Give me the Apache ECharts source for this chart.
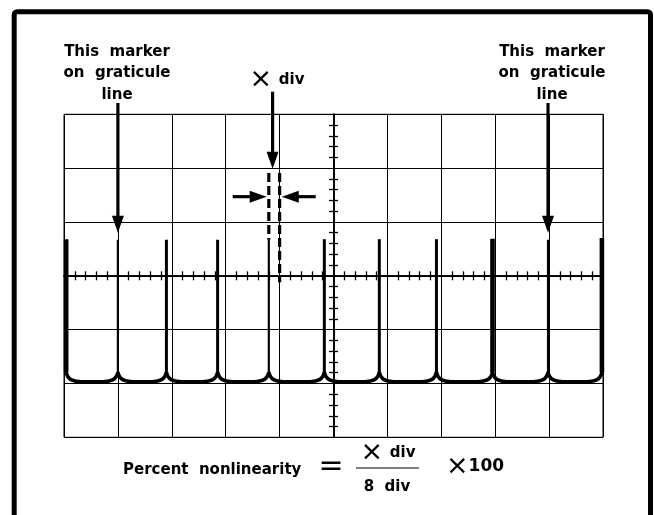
<!DOCTYPE html>
<html><head><meta charset="utf-8">
<script src="https://cdn.jsdelivr.net/npm/echarts@6/dist/echarts.min.js"></script>
<style>html,body{margin:0;padding:0;background:#fff}#c{width:654px;height:515px}</style>
</head><body><div id="c"></div>
<script>
// Graticule: 10 x 6 divisions, centre at (0,0)
const xRange = [-5, 5];
const yRange = [-3, 3];
// Timing-marker spikes (divisions from centre)
const spikeX   = [-4.96, -4.0, -3.10, -2.15, -1.20, -0.17, 0.85, 1.91, 2.95, 3.98, 4.98];
const spikeTop = [0.68, 0.67, 0.67, 0.67, 0.67, 0.68, 0.68, 0.68, 0.69, 0.67, 0.70];
const thickSpikes = [0, 8, 10];
const mediumSpikes = [2, 3, 5, 6, 7];
const traceFloor = -1.97;
// scallop profile next to each spike: [distance from spike, height above floor]
const scallopShape = [[0, 0.18], [0.03, 0.10], [0.09, 0.04], [0.2, 0.01], [0.34, 0]];
// dashed construction lines [x, yFrom, yTo]
const dashedLines = [[-1.20, 1.91, 0.67], [-1.00, 1.91, -0.12]];
// arrows: tail and tip
const arrowFrom = [[-4.0, 3.21], [-1.13, 3.42], [3.98, 3.21], [-1.87, 1.47], [-0.33, 1.47]];
const arrowTo   = [[-4.0, 0.80], [-1.13, 1.99], [3.98, 0.80], [-1.24, 1.47], [-0.96, 1.47]];

const chart = echarts.init(document.getElementById('c'), null, {renderer: 'canvas'});
const BLK = '#000';
const series = [];

// scallops
for (let i = 0; i < spikeX.length - 1; i++) {
  const a = spikeX[i], b = spikeX[i + 1];
  const left = scallopShape.map(([dx, dy]) => [a + dx, traceFloor + dy]);
  const right = scallopShape.slice().reverse().map(([dx, dy]) => [b - dx, traceFloor + dy]);
  series.push({type: 'line', data: left.concat(right), smooth: 0.4, symbol: 'none', clip: false,
    lineStyle: {color: BLK, width: 3.6}, z: 3, silent: true});
}
// spikes
spikeX.forEach((x, i) => {
  const w = thickSpikes.includes(i) ? 4.6 : (mediumSpikes.includes(i) ? 3 : 2.2);
  series.push({type: 'line', data: [[x, traceFloor + scallopShape[0][1]], [x, spikeTop[i]]], symbol: 'none', clip: false,
    lineStyle: {color: BLK, width: w, cap: 'butt'}, z: 4, silent: true});
});
// dashed lines
dashedLines.forEach(([x, y0, y1]) => {
  series.push({type: 'line', data: [[x, y0], [x, y1]], symbol: 'none', clip: false,
    lineStyle: {color: BLK, width: 3.2, type: [9, 4]}, z: 4, silent: true});
});
// arrows
const headLen = 17, headW = 12, pxPerDiv = 53.9;
const heads = [];
arrowFrom.forEach((f, i) => {
  const t = arrowTo[i];
  const dx = t[0] - f[0], dy = t[1] - f[1];
  const len = Math.hypot(dx, dy);
  const ux = dx / len, uy = dy / len;
  const back = (headLen * 0.6) / pxPerDiv;
  series.push({type: 'line', data: [f, [t[0] - ux * back, t[1] - uy * back]], symbol: 'none', clip: false,
    lineStyle: {color: BLK, width: 3.2}, z: 5, silent: true});
  const sx = ux, sy = -uy;
  const rot = Math.atan2(-sx, -sy) * 180 / Math.PI;
  heads.push({value: t, symbolRotate: rot, symbolOffset: [-sx * headLen / 2, -sy * headLen / 2]});
});
series.push({type: 'scatter', data: heads, symbol: 'triangle', symbolSize: [headW, headLen], clip: false,
  itemStyle: {color: BLK, opacity: 1}, z: 6, silent: true});

function xAx(pos, split) {
  return {type: 'value', min: xRange[0], max: xRange[1], interval: 1, position: pos,
    axisLine: {show: true, onZero: true, lineStyle: {color: BLK, width: 1.6}},
    axisTick: {show: false}, axisLabel: {show: false},
    minorTick: {show: true, splitNumber: 5, length: 4.5, lineStyle: {color: BLK, width: 1.3}},
    splitLine: {show: split, lineStyle: {color: BLK, width: 1}}};
}
function yAx(pos, split) {
  return {type: 'value', min: yRange[0], max: yRange[1], interval: 1, position: pos,
    axisLine: {show: true, onZero: true, lineStyle: {color: BLK, width: 1.6}},
    axisTick: {show: false}, axisLabel: {show: false},
    minorTick: {show: true, splitNumber: 5, length: 4.5, lineStyle: {color: BLK, width: 1.3}},
    splitLine: {show: split, lineStyle: {color: BLK, width: 1}}};
}

const F = 'DejaVu Sans';
const boldTxt = (t, x, y, align, vAlign) => ({type: 'text', x, y, z: 10,
  style: {text: t, font: 'bold 15px "' + F + '"', fill: BLK, align, verticalAlign: vAlign}});
const richX = {x: {fontFamily: F, fontSize: 27, fontWeight: 'normal', color: BLK},
               b: {fontFamily: F, fontSize: 15, fontWeight: 'bold', color: BLK},
               c: {fontFamily: F, fontSize: 17, fontWeight: 'bold', color: BLK}};

chart.setOption({
  animation: false,
  backgroundColor: '#fff',
  grid: {left: 64, right: 51, top: 114.3, bottom: 77.7, show: true, borderColor: BLK, borderWidth: 1},
  xAxis: [xAx('bottom', true), xAx('top', false)],
  yAxis: [yAx('left', true), yAx('right', false)],
  series: series,
  graphic: [
    {type: 'rect', shape: {x: 14.2, y: 11.7, width: 636.3, height: 540, r: 3},
      style: {fill: 'none', stroke: BLK, lineWidth: 5}, z: 1},
    {type: 'text', x: 117, y: 41, z: 10, style: {text: 'This  marker\non  graticule\nline', font: 'bold 15px "' + F + '"',
      fill: BLK, align: 'center', verticalAlign: 'top', lineHeight: 21.5}},
    {type: 'text', x: 552, y: 41, z: 10, style: {text: 'This  marker\non  graticule\nline', font: 'bold 15px "' + F + '"',
      fill: BLK, align: 'center', verticalAlign: 'top', lineHeight: 21.5}},
    {type: 'text', x: 277, y: 80, z: 10, style: {text: '{x|×}  {b|div}', rich: richX, align: 'center', verticalAlign: 'middle'}},
    boldTxt('Percent  nonlinearity', 123, 470, 'left', 'middle'),
    {type: 'text', x: 331, y: 467, z: 10, style: {text: '=', font: 'normal 30px "' + F + '"', fill: BLK, align: 'center', verticalAlign: 'middle'}},
    {type: 'text', x: 388, y: 453, z: 10, style: {text: '{x|×}  {b|div}', rich: richX, align: 'center', verticalAlign: 'middle'}},
    {type: 'line', shape: {x1: 356, y1: 468, x2: 419, y2: 468}, style: {stroke: BLK, lineWidth: 1}, z: 10},
    boldTxt('8  div', 387, 487, 'center', 'middle'),
    {type: 'text', x: 446, y: 467, z: 10, style: {text: '{x|×}{c|100}', rich: richX, align: 'left', verticalAlign: 'middle'}}
  ]
});
</script></body></html>
